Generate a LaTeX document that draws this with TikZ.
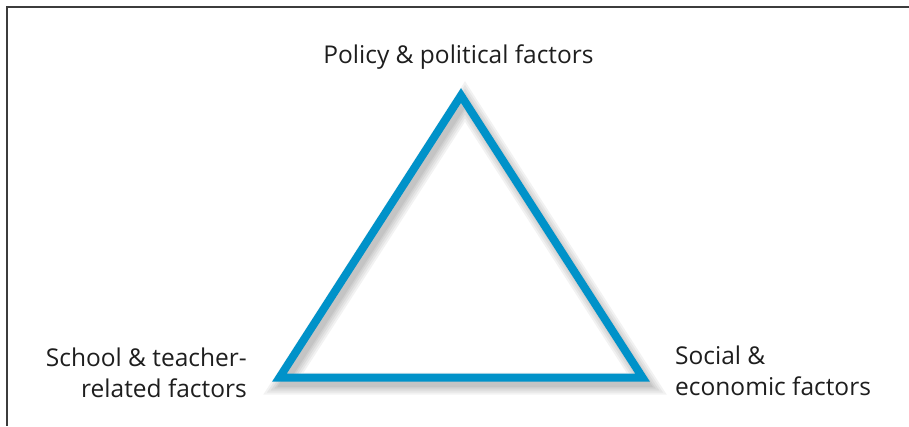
\documentclass[tikz,border=0pt]{standalone}
\usepackage{fontspec}
\setmainfont{Open Sans}

\definecolor{triBlue}{RGB}{0,146,201}
\definecolor{labelGray}{RGB}{30,30,30}
\definecolor{frameGray}{RGB}{60,60,60}

\begin{document}
\begin{tikzpicture}
[x=1pt,y=-1pt,
  triLine/.style={line width=8pt,color=triBlue,line join=miter},%
  triShadow/.style={color=black,opacity=0.05,line join=miter,
    transform canvas={shift={(4pt,-6pt)}}},%
  frameLine/.style={line width=2pt,color=frameGray},%
  factorLabel/.style={font=\fontsize{24.5}{31}\selectfont,text=labelGray,
    inner sep=0pt,align=#1}]
\useasboundingbox (0,0) rectangle (909,426);
%% frame (top and left only)
\coordinate (frameTL) at (7,7);
\coordinate (frameTR) at (909,7);
\coordinate (frameBL) at (7,426);
\draw[frameLine] (frameTR) -- (frameTL) -- (frameBL);
%% corners of the triangle
\foreach \cornername/\x/\y in {apex/461/95.5, baseL/279.5/377.5, baseR/642.5/377.5}
{
  \coordinate (\cornername) at (\x,\y);
}
%% soft shadow
\foreach \w in {22,18,14,10,7}
{
  \draw[triShadow,line width=\w pt] (apex) -- (baseL) -- (baseR) -- cycle;
}
%% triangle
\draw[triLine] (apex) -- (baseL) -- (baseR) -- cycle;
%% labels
\node (policy) at (458.5,63) [factorLabel=center,anchor=base] {Policy \& political factors};
\node (school) at (247,397) [factorLabel=right,anchor=base east] {School \& teacher-\\related factors};
\node (social) at (675,395) [factorLabel=left,anchor=base west] {Social \&\\economic factors};
\end{tikzpicture}
\end{document}
